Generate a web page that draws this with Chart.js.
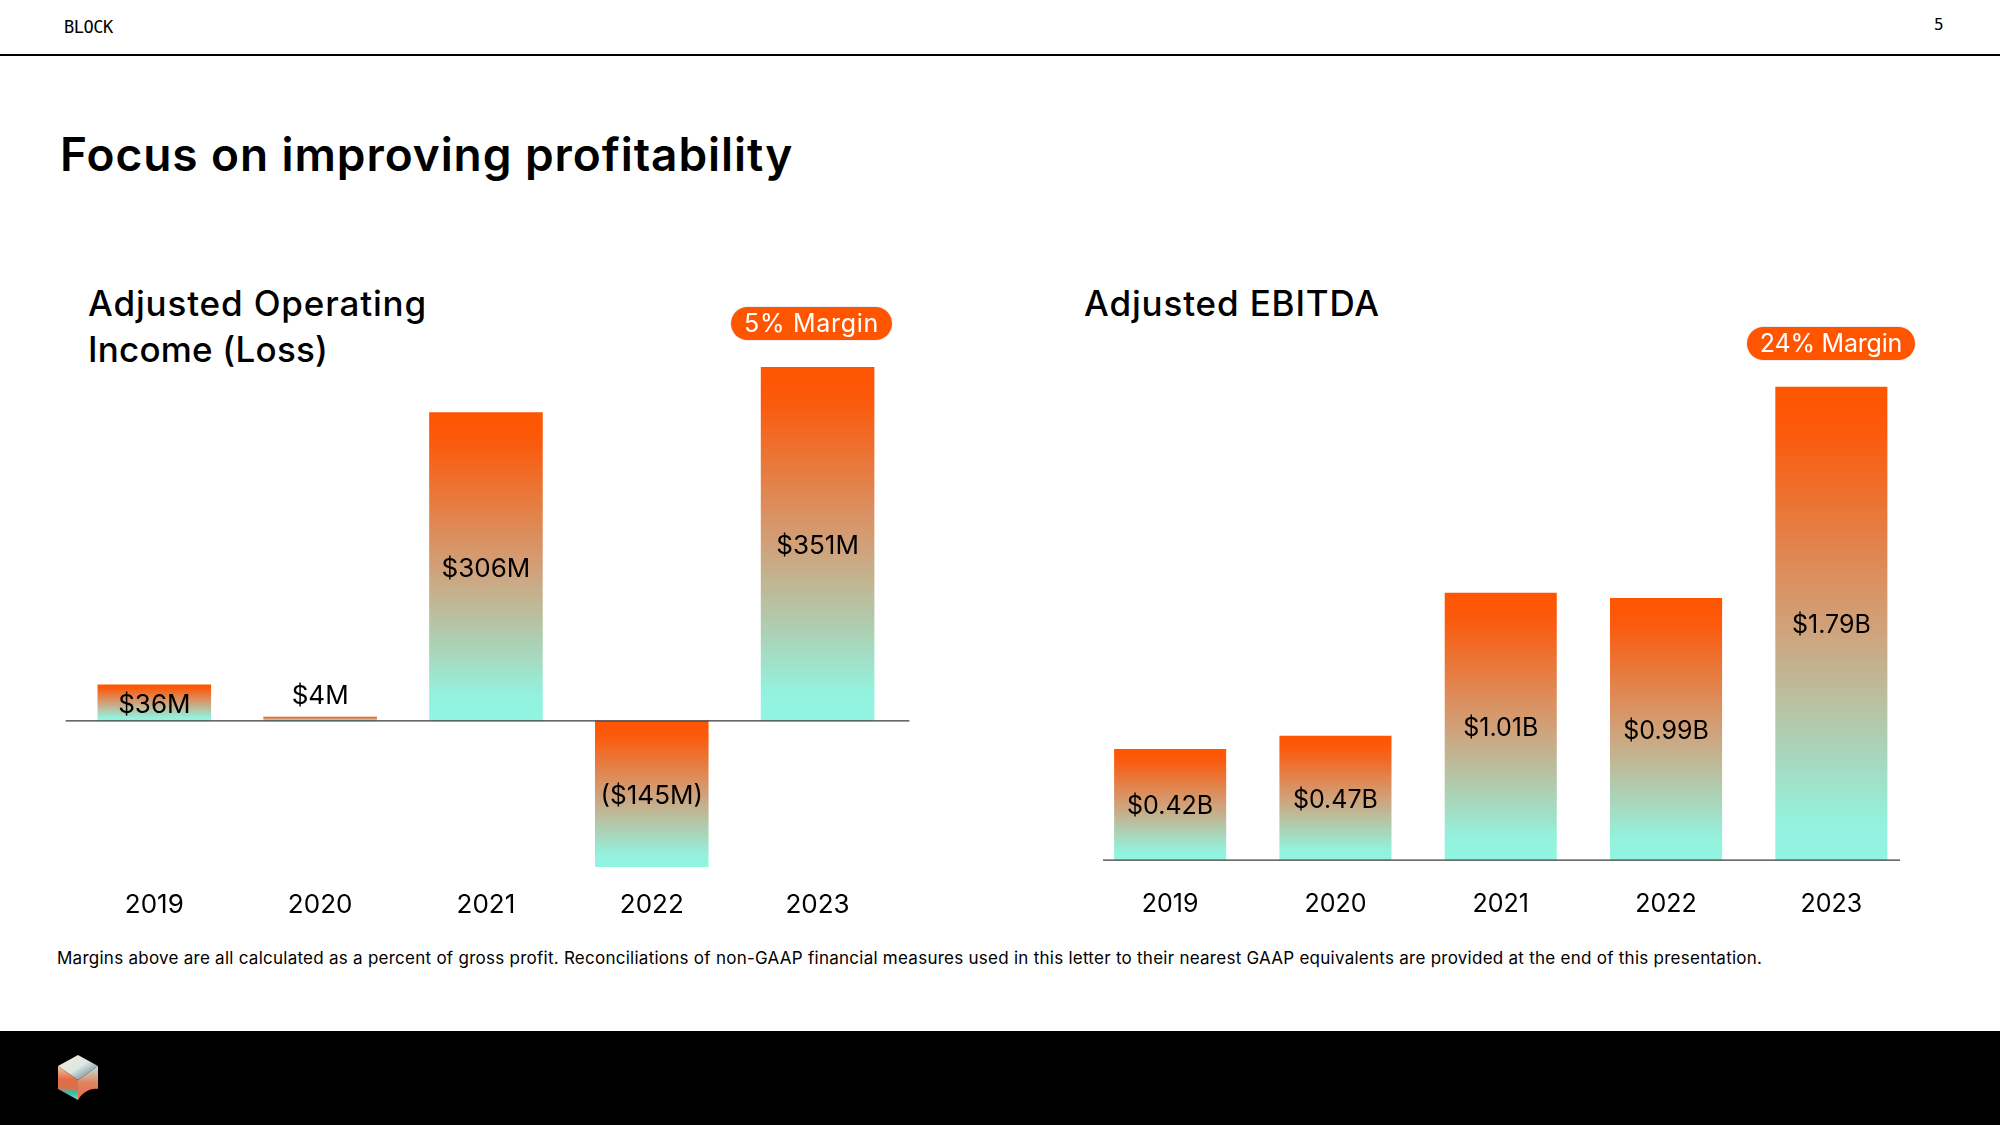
<!DOCTYPE html>
<html>
<head>
<meta charset="utf-8">
<title>Focus on improving profitability</title>
<script src="https://cdn.jsdelivr.net/npm/chart.js@4"></script>
<style>
  html, body { margin: 0; padding: 0; background: #fff; }
  body { width: 2000px; height: 1125px; position: relative; overflow: hidden; font-family: Inter, sans-serif; color: #000; }
  .abs { position: absolute; white-space: nowrap; }
  canvas { position: absolute; }
  #brand { left: 64px; top: 17px; font: 17px/20px "DejaVu Sans Mono", monospace; letter-spacing: -0.5px; }
  #page { left: 1934px; top: 15px; font: 16px/20px "DejaVu Sans Mono", monospace; }
  #rule { left: 0; top: 54px; width: 2000px; height: 2px; background: #000; }
  #title { left: 60px; top: 124px; font-size: 46px; line-height: 60px; font-weight: 600; letter-spacing: 0.93px; }
  .sub { font-size: 35px; line-height: 46px; font-weight: 500; letter-spacing: 0.85px; }
  .sub span { letter-spacing: 0.2px; }
  #leftTitle { left: 88px; top: 280px; }
  #rightTitle { left: 1084px; top: 280px; }
  .pill { background: #ff5500; color: #fff; border-radius: 17px; font-size: 25px; line-height: 33px; height: 33px; text-align: center; box-shadow: 0 0 0 1px #f0f0f0; }
  #leftPill { left: 731px; top: 307px; width: 161px; letter-spacing: 0.7px; }
  #rightPill { left: 1747px; top: 327px; width: 168px; letter-spacing: -0.2px; }
  #note { left: 57px; top: 947px; font-size: 17px; line-height: 22px; letter-spacing: 0.258px; }
  #footer { left: 0; top: 1031px; width: 2000px; height: 94px; background: #000; }
  #logo { left: 56px; top: 1053px; }
</style>
</head>
<body>
<div class="abs" id="brand">BLOCK</div>
<div class="abs" id="page">5</div>
<div class="abs" id="rule"></div>
<div class="abs" id="title">Focus on improving profitability</div>
<div class="abs sub" id="leftTitle">Adjusted Operating<br><span>Income (Loss)</span></div>
<div class="abs sub" id="rightTitle">Adjusted EBITDA</div>
<canvas id="leftChart" style="left:60px;top:340px;width:870px;height:590px"></canvas>
<canvas id="rightChart" style="left:1080px;top:360px;width:840px;height:570px"></canvas>
<div class="abs pill" id="leftPill">5% Margin</div>
<div class="abs pill" id="rightPill">24% Margin</div>
<div class="abs" id="note">Margins above are all calculated as a percent of gross profit. Reconciliations of non-GAAP financial measures used in this letter to their nearest GAAP equivalents are provided at the end of this presentation.</div>
<div class="abs" id="footer"></div>
<svg class="abs" id="logo" width="44" height="50" viewBox="0 0 44 50">
  <defs>
    <linearGradient id="faceL" x1="0" y1="0" x2="0" y2="1">
      <stop offset="0" stop-color="#f0c8b0"/><stop offset="0.4" stop-color="#e56a45"/><stop offset="0.65" stop-color="#d9704f"/><stop offset="0.8" stop-color="#2cc4ae"/><stop offset="1" stop-color="#7fd8c0"/>
    </linearGradient>
    <linearGradient id="faceT" x1="0" y1="0" x2="1" y2="1">
      <stop offset="0" stop-color="#f3e6d8"/><stop offset="0.5" stop-color="#dfe8e4"/><stop offset="0.75" stop-color="#8fa8b0"/><stop offset="1" stop-color="#59d3dc"/>
    </linearGradient>
    <linearGradient id="faceR" x1="0" y1="0" x2="0" y2="1">
      <stop offset="0" stop-color="#bfe3dc"/><stop offset="0.5" stop-color="#e0845e"/><stop offset="1" stop-color="#e56a45"/>
    </linearGradient>
  </defs>
  <polygon points="22,2 2,13 22,27 42,13" fill="url(#faceT)"/>
  <polygon points="2,13 22,27 22,47 2,36" fill="url(#faceL)"/>
  <path d="M22,27 L42,13 L42,36 C34,35 27,39 22,47 Z" fill="url(#faceR)"/>
</svg>
<script>
const categories = ['2019', '2020', '2021', '2022', '2023'];

const operatingIncome = [36, 4, 306, -145, 351];
const operatingLabels = ['$36M', '$4M', '$306M', '($145M)', '$351M'];

const ebitda = [0.42, 0.47, 1.01, 0.99, 1.79];
const ebitdaLabels = ['$0.42B', '$0.47B', '$1.01B', '$0.99B', '$1.79B'];

// each bar gets its own gradient, orange on top, aqua on the bottom
function barGradient(ctx) {
    const chart = ctx.chart;
    const yScale = chart.scales.y;
    if (!chart.chartArea || !yScale || ctx.parsed === undefined) return '#ff5500';
    const value = ctx.parsed.y;
    const top = yScale.getPixelForValue(Math.max(value, 0));
    const bottom = yScale.getPixelForValue(Math.min(value, 0));
    const g = chart.ctx.createLinearGradient(0, top, 0, bottom);
    g.addColorStop(0, '#ff5500');
    g.addColorStop(0.1, '#fb5a0c');
    g.addColorStop(0.5, '#d1a078');
    g.addColorStop(0.92, '#93f2de');
    g.addColorStop(1, '#90f5e2');
    return g;
}

const barExtras = {
    id: 'barExtras',
    afterDatasetsDraw(chart, args, opts) {
        const c = chart.ctx;
        const zero = chart.scales.y.getPixelForValue(0);
        c.save();
        c.strokeStyle = '#3a3a3a';
        c.lineWidth = 1.25;
        c.beginPath();
        c.moveTo(opts.lineFrom, zero);
        c.lineTo(opts.lineTo, zero);
        c.stroke();

        c.fillStyle = '#000';
        c.font = opts.font;
        c.textAlign = 'center';
        c.textBaseline = 'middle';
        chart.getDatasetMeta(0).data.forEach((bar, i) => {
            // too short to hold the label, so it sits above the bar
            const small = Math.abs(bar.base - bar.y) < 20;
            const y = small ? bar.y - 23 : (bar.y + bar.base) / 2;
            c.fillText(opts.labels[i], bar.x, y + 2.5);
        });
        c.restore();
    }
};

function makeChart(id, values, labels, o) {
    return new Chart(document.getElementById(id), {
        type: 'bar',
        data: {
            labels: categories,
            datasets: [{
                data: values,
                backgroundColor: barGradient,
                categoryPercentage: o.barShare,
                barPercentage: 1
            }]
        },
        options: {
            responsive: false,
            animation: false,
            layout: { padding: o.padding },
            plugins: {
                legend: { display: false },
                tooltip: { enabled: false },
                barExtras: { labels: labels, lineFrom: o.lineFrom, lineTo: o.lineTo, font: '400 ' + o.labelSize + 'px Inter' }
            },
            scales: {
                x: {
                    grid: { display: false },
                    border: { display: false },
                    ticks: { color: '#000', padding: o.tickPad, font: { family: 'Inter', size: o.tickSize }, maxRotation: 0 },
                    afterFit(scale) { scale.height = o.axisHeight; }
                },
                y: { display: false, min: o.min, max: o.max }
            }
        },
        plugins: [barExtras]
    });
}

document.getElementById('leftChart').width = 870;
document.getElementById('leftChart').height = 590;
document.getElementById('rightChart').width = 840;
document.getElementById('rightChart').height = 570;

makeChart('leftChart', operatingIncome, operatingLabels, {
    barShare: 0.685,
    padding: { left: 11.4, right: 29.5, top: 27, bottom: 0 },
    lineFrom: 5.7, lineTo: 849.4,
    labelSize: 26, tickSize: 26, tickPad: 14, axisHeight: 62,
    min: -146, max: 351
});

makeChart('rightChart', ebitda, ebitdaLabels, {
    barShare: 0.678,
    padding: { left: 7.5, right: 6, top: 26.5, bottom: 0 },
    lineFrom: 23, lineTo: 820,
    labelSize: 25, tickSize: 25, tickPad: 21, axisHeight: 70,
    min: 0, max: 1.79
});
</script>
</body>
</html>
